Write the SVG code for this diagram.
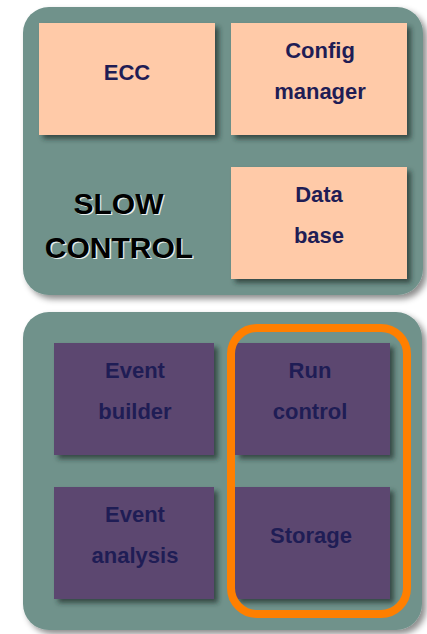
<svg xmlns="http://www.w3.org/2000/svg" width="427" height="634" viewBox="0 0 427 634">
  <style>
    .panel { fill: #6F928B; }
    .peach { fill: #FFCAA8; }
    .purple { fill: #5C4670; }
    .lbl { font-family: "Liberation Sans", Arial, sans-serif; font-weight: bold; font-size: 22px; fill: #1F1D55; text-anchor: middle; }
    .title { font-family: "Liberation Sans", Arial, sans-serif; font-weight: bold; font-size: 30px; fill: #000; text-anchor: middle; }
    .title-hl { font-family: "Liberation Sans", Arial, sans-serif; font-weight: bold; font-size: 30px; fill: #E8F0EE; text-anchor: middle; }
  </style>
  <defs>
    <filter id="panelShadow" x="-10%" y="-10%" width="125%" height="125%">
      <feGaussianBlur in="SourceAlpha" stdDeviation="3"/>
      <feOffset dx="4" dy="4" result="b"/>
      <feFlood flood-color="#000" flood-opacity="0.45"/>
      <feComposite in2="b" operator="in"/>
      <feMerge><feMergeNode/><feMergeNode in="SourceGraphic"/></feMerge>
    </filter>
    <filter id="boxShadow" x="-10%" y="-10%" width="130%" height="130%">
      <feGaussianBlur in="SourceAlpha" stdDeviation="2.5"/>
      <feOffset dx="4" dy="4" result="b"/>
      <feFlood flood-color="#1E2E2A" flood-opacity="0.7"/>
      <feComposite in2="b" operator="in"/>
      <feMerge><feMergeNode/><feMergeNode in="SourceGraphic"/></feMerge>
    </filter>
  </defs>

  <rect width="427" height="634" fill="#FFFFFF"/>

  <!-- Slow control panel -->
  <g id="slow-control">
    <rect class="panel" x="23" y="7" width="400" height="288" rx="26" filter="url(#panelShadow)"/>
    <text class="title-hl" x="119.8" y="214.8">SLOW</text>
    <text class="title" x="118.5" y="213.5">SLOW</text>
    <text class="title-hl" x="120.3" y="258.8">CONTROL</text>
    <text class="title" x="119" y="257.5">CONTROL</text>
  </g>
  <g id="ecc">
    <rect class="peach" x="39" y="23" width="176" height="112" filter="url(#boxShadow)"/>
    <text class="lbl" x="127" y="80">ECC</text>
  </g>
  <g id="config-manager">
    <rect class="peach" x="231" y="23" width="176" height="112" filter="url(#boxShadow)"/>
    <text class="lbl" x="320" y="58">Config</text>
    <text class="lbl" x="320" y="99">manager</text>
  </g>
  <g id="data-base">
    <rect class="peach" x="231" y="167" width="176" height="112" filter="url(#boxShadow)"/>
    <text class="lbl" x="319" y="202">Data</text>
    <text class="lbl" x="319" y="243">base</text>
  </g>

  <!-- DAQ panel -->
  <g id="daq-panel">
    <rect class="panel" x="23" y="312" width="399" height="318" rx="26" filter="url(#panelShadow)"/>
  </g>
  <g id="event-builder">
    <rect class="purple" x="54" y="343" width="160" height="112" filter="url(#boxShadow)"/>
    <text class="lbl" x="135" y="378">Event</text>
    <text class="lbl" x="135" y="419">builder</text>
  </g>
  <g id="run-control">
    <rect class="purple" x="235" y="343" width="155" height="112" filter="url(#boxShadow)"/>
    <text class="lbl" x="310" y="378">Run</text>
    <text class="lbl" x="310" y="419">control</text>
  </g>
  <g id="event-analysis">
    <rect class="purple" x="54" y="487" width="160" height="112" filter="url(#boxShadow)"/>
    <text class="lbl" x="135" y="522">Event</text>
    <text class="lbl" x="135" y="563">analysis</text>
  </g>
  <g id="storage">
    <rect class="purple" x="235" y="487" width="155" height="112" filter="url(#boxShadow)"/>
    <text class="lbl" x="311" y="543">Storage</text>
  </g>

  <!-- Highlight around run control and storage -->
  <g id="connectors">
    <rect x="231" y="328" width="176" height="286" rx="26" fill="none" stroke="#FF7F00" stroke-width="8"/>
  </g>
</svg>
